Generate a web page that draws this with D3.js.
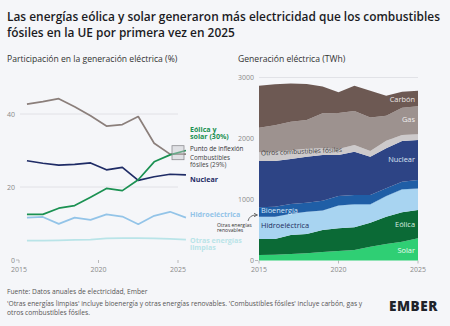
<!DOCTYPE html>
<meta charset="utf-8">
<style>
  body { margin: 0; background: #f5f6f9; }
  svg { display: block; font-family: "Open Sans", sans-serif; }
  .tick-label { font-size: 7px; fill: #8a8a8a; }
  .grid { stroke: #dcdde2; stroke-width: 0.8; }
</style>
<svg id="chart" width="450" height="326"></svg>
<script src="https://cdnjs.cloudflare.com/ajax/libs/d3/7.8.5/d3.min.js"></script>
<script>

var years = [2015, 2016, 2017, 2018, 2019, 2020, 2021, 2022, 2023, 2024, 2025];

// share of EU generation, %
var fossilShare     = [42.7, 43.4, 44.2, 42.0, 39.5, 36.7, 37.1, 39.3, 32.0, 29.0, 29.0];
var windSolarShare  = [12.5, 12.5, 14.2, 14.9, 17.2, 19.6, 19.0, 22.0, 26.9, 28.8, 30.0];
var nuclearShare    = [27.2, 26.5, 26.0, 26.2, 26.6, 24.7, 25.4, 21.8, 22.8, 23.5, 23.3];
var hydroShare      = [11.6, 11.8, 9.9, 11.6, 11.0, 12.5, 11.9, 9.8, 12.1, 13.2, 11.6];
var otherCleanShare = [5.3, 5.3, 5.4, 5.5, 5.6, 5.9, 6.0, 6.0, 5.9, 5.8, 5.6];

// generation, TWh
var solarTWh       = [90, 95, 107, 118, 139, 156, 172, 226, 270, 308, 364];
var windTWh        = [262, 257, 311, 316, 361, 372, 372, 394, 448, 482, 464];
var hydroTWh       = [356, 356, 339, 356, 311, 365, 366, 290, 328, 366, 339];
var otherRenewTWh  = [8, 8, 9, 9, 10, 10, 11, 11, 12, 12, 12];
var bioTWh         = [156, 166, 160, 149, 159, 154, 153, 153, 126, 124, 141];
var nuclearTWh     = [759, 749, 738, 754, 750, 673, 710, 628, 655, 667, 655];
var otherFossilTWh = [143, 150, 145, 128, 110, 96, 108, 95, 125, 98, 96];
var gasTWh         = [403, 437, 464, 475, 574, 590, 558, 546, 410, 448, 459];
var coalTWh        = [689, 672, 630, 590, 437, 344, 415, 438, 328, 262, 251];

var shareTicks = [0, 20, 40];
var twhTicks = [0, 1000, 2000, 3000];
var yearTicks = [2015, 2020, 2025];

var svg = d3.select("#chart");

svg.append("rect").attr("width", 450).attr("height", 326).attr("fill", "#f5f6f9");

// title
var title = svg.append("text")
    .attr("x", 7).attr("y", 21)
    .style("font-size", "11.9px").style("font-weight", 600).style("fill", "#1b1b1f");
title.append("tspan").attr("x", 7).attr("y", 21)
    .text("Las energías eólica y solar generaron más electricidad que los combustibles");
title.append("tspan").attr("x", 7).attr("y", 37)
    .text("fósiles en la UE por primera vez en 2025");

svg.append("text").attr("x", 7).attr("y", 62)
    .style("font-size", "8.6px").style("fill", "#333")
    .text("Participación en la generación eléctrica (%)");
svg.append("text").attr("x", 238).attr("y", 62)
    .style("font-size", "8.6px").style("fill", "#333")
    .text("Generación eléctrica (TWh)");

// ---------- left: shares ----------
var xL = d3.scaleLinear().domain([2015, 2025]).range([19, 178]);
var yL = d3.scaleLinear().domain([0, 40]).range([260, 114]);

var left = svg.append("g");

left.selectAll(".grid")
    .data(shareTicks.filter(function(d) { return d > 0; }))
    .enter().append("line")
    .attr("class", "grid")
    .attr("x1", 20).attr("x2", 178)
    .attr("y1", function(d) { return yL(d); })
    .attr("y2", function(d) { return yL(d); });

left.selectAll(".ylab")
    .data(shareTicks)
    .enter().append("text")
    .attr("class", "tick-label")
    .attr("x", 15).attr("y", function(d) { return yL(d) + 2.5; })
    .attr("text-anchor", "end")
    .text(function(d) { return d; });

left.append("line").attr("x1", 16).attr("x2", 19).attr("y1", yL(0)).attr("y2", yL(0))
    .attr("stroke", "#aaa").attr("stroke-width", 0.8);

left.selectAll(".xt")
    .data(yearTicks)
    .enter().append("line")
    .attr("x1", function(d) { return xL(d); }).attr("x2", function(d) { return xL(d); })
    .attr("y1", yL(0)).attr("y2", yL(0) + 3)
    .attr("stroke", "#aaa").attr("stroke-width", 0.8);

left.selectAll(".xlab")
    .data(yearTicks)
    .enter().append("text")
    .attr("class", "tick-label")
    .attr("x", function(d) { return xL(d); }).attr("y", 272)
    .attr("text-anchor", "middle")
    .text(function(d) { return d; });

// data points sit mid-year
var shareLine = d3.line()
    .x(function(d, i) { return xL(years[i] + 0.5); })
    .y(function(d) { return yL(d); });

var shareSeries = [
    { values: otherCleanShare, color: "#b9e4e8" },
    { values: hydroShare, color: "#93c4e8" },
    { values: nuclearShare, color: "#1f2c66" },
    { values: fossilShare, color: "#8b7f7b" },
    { values: windSolarShare, color: "#1b9152" }
];

left.selectAll(".series")
    .data(shareSeries)
    .enter().append("path")
    .attr("fill", "none")
    .attr("stroke", function(d) { return d.color; })
    .attr("stroke-width", 1.7)
    .attr("stroke-linejoin", "round")
    .attr("d", function(d) { return shareLine(d.values); });

// crossover marker
left.append("rect")
    .attr("x", xL(2025) - 6).attr("y", yL(29.4) - 7)
    .attr("width", 12).attr("height", 14)
    .attr("fill", "#c8c8cc").attr("fill-opacity", 0.45)
    .attr("stroke", "#8d8d92").attr("stroke-width", 0.8);

function labelLines(g, x, y, lines, size, color, weight, lh) {
    var t = g.append("text").attr("x", x).attr("y", y)
        .style("font-size", size + "px").style("fill", color).style("font-weight", weight);
    lines.forEach(function(l, i) {
        t.append("tspan").attr("x", x).attr("y", y + i * lh).text(l);
    });
    return t;
}

labelLines(left, 190, 131.5, ["Eólica y", "solar (30%)"], 7.1, "#1b9152", 700, 7.8);
labelLines(left, 190, 151.3, ["Punto de inflexión"], 6.3, "#333", 400, 7);
labelLines(left, 190, 160.3, ["Combustibles", "fósiles (29%)"], 6.3, "#444", 400, 6.8);
labelLines(left, 190, 182, ["Nuclear"], 7.1, "#1f2c66", 700, 8);
labelLines(left, 190, 217, ["Hidroeléctrica"], 7.1, "#93c4e8", 700, 8);
labelLines(left, 190, 242.5, ["Otras energías", "limpias"], 7.1, "#b9e4e8", 700, 7.2);
labelLines(left, 217, 226.6, ["Otras energías", "renovables"], 5.1, "#333", 400, 5.2);

// ---------- right: generation ----------
var xR = d3.scaleLinear().domain([2015, 2025]).range([259, 418]);
var yR = d3.scaleLinear().domain([0, 3000]).range([260.5, 77.5]);

var right = svg.append("g");

right.selectAll(".grid")
    .data(twhTicks.filter(function(d) { return d > 0; }))
    .enter().append("line")
    .attr("class", "grid")
    .attr("x1", 259).attr("x2", 418)
    .attr("y1", function(d) { return yR(d); })
    .attr("y2", function(d) { return yR(d); });

right.selectAll(".ylab")
    .data(twhTicks)
    .enter().append("text")
    .attr("class", "tick-label")
    .attr("x", 254).attr("y", function(d) { return yR(d) + 2.5; })
    .attr("text-anchor", "end")
    .text(function(d) { return d; });

right.append("line").attr("x1", 255).attr("x2", 258).attr("y1", yR(0)).attr("y2", yR(0))
    .attr("stroke", "#aaa").attr("stroke-width", 0.8);

right.selectAll(".xt")
    .data(yearTicks)
    .enter().append("line")
    .attr("x1", function(d) { return xR(d); }).attr("x2", function(d) { return xR(d); })
    .attr("y1", yR(0)).attr("y2", yR(0) + 3)
    .attr("stroke", "#aaa").attr("stroke-width", 0.8);

right.selectAll(".xlab")
    .data(yearTicks)
    .enter().append("text")
    .attr("class", "tick-label")
    .attr("x", function(d) { return xR(d); }).attr("y", 272)
    .attr("text-anchor", "middle")
    .text(function(d) { return d; });

var keys = ["solar", "wind", "hydro", "otherRenew", "bio", "nuclear", "otherFossil", "gas", "coal"];
var colors = {
    solar: "#2fcf74", wind: "#0b6a36", hydro: "#a8d4f1", otherRenew: "#7fbbe6",
    bio: "#1f5ea6", nuclear: "#2d4485", otherFossil: "#cdcacb", gas: "#9d928f", coal: "#6d5953"
};

var table = years.map(function(y, i) {
    return {
        year: y, solar: solarTWh[i], wind: windTWh[i], hydro: hydroTWh[i],
        otherRenew: otherRenewTWh[i], bio: bioTWh[i], nuclear: nuclearTWh[i],
        otherFossil: otherFossilTWh[i], gas: gasTWh[i], coal: coalTWh[i]
    };
});

var stacked = d3.stack().keys(keys)(table);

var area = d3.area()
    .x(function(d) { return xR(d.data.year); })
    .y0(function(d) { return yR(d[0]); })
    .y1(function(d) { return yR(d[1]); });

right.selectAll(".layer")
    .data(stacked)
    .enter().append("path")
    .attr("fill", function(d) { return colors[d.key]; })
    .attr("d", area);

labelLines(right, 415, 102, ["Carbón"], 7.4, "#ece8e6", 400, 8).attr("text-anchor", "end");
labelLines(right, 415, 122, ["Gas"], 7.4, "#f0eeee", 400, 8).attr("text-anchor", "end");
labelLines(right, 415, 162, ["Nuclear"], 7.4, "#dfe5f3", 400, 8).attr("text-anchor", "end");
labelLines(right, 415, 227, ["Eólica"], 7.4, "#d9efe0", 400, 8).attr("text-anchor", "end");
labelLines(right, 415, 253, ["Solar"], 7.4, "#eafaf0", 400, 8).attr("text-anchor", "end");
labelLines(right, 261, 213, ["Bioenergía"], 7.4, "#d3e5f6", 400, 8);
labelLines(right, 261, 228, ["Hidroeléctrica"], 7.4, "#1e2d5e", 400, 8);
labelLines(right, 261, 155.5, ["Otros combustibles fósiles"], 6.6, "#3a3a3a", 400, 8)
    .attr("transform", "rotate(-2.5 261 155)");

// arrow from the small label to the thin renewables layer
svg.append("path")
    .attr("d", "M248,221 Q249.5,215 256,215")
    .attr("fill", "none").attr("stroke", "#333").attr("stroke-width", 0.7);
svg.append("path")
    .attr("d", "M254,213.3 L257.5,215 L254,216.7")
    .attr("fill", "none").attr("stroke", "#333").attr("stroke-width", 0.7);

// ---------- footer ----------
labelLines(svg, 7, 294, ["Fuente: Datos anuales de electricidad, Ember"], 6.7, "#555", 400, 8);
labelLines(svg, 7, 306, [
    "'Otras energías limpias' incluye bioenergía y otras energías renovables. 'Combustibles fósiles' incluye carbón, gas y",
    "otros combustibles fósiles."
], 6.7, "#555", 400, 8.8);

svg.append("text")
    .attr("x", 438).attr("y", 310.5)
    .attr("text-anchor", "end")
    .style("font-size", "13.5px").style("font-weight", 800)
    .style("letter-spacing", "0.6px")
    .style("fill", "#20232a")
    .text("EMBER");

</script>
